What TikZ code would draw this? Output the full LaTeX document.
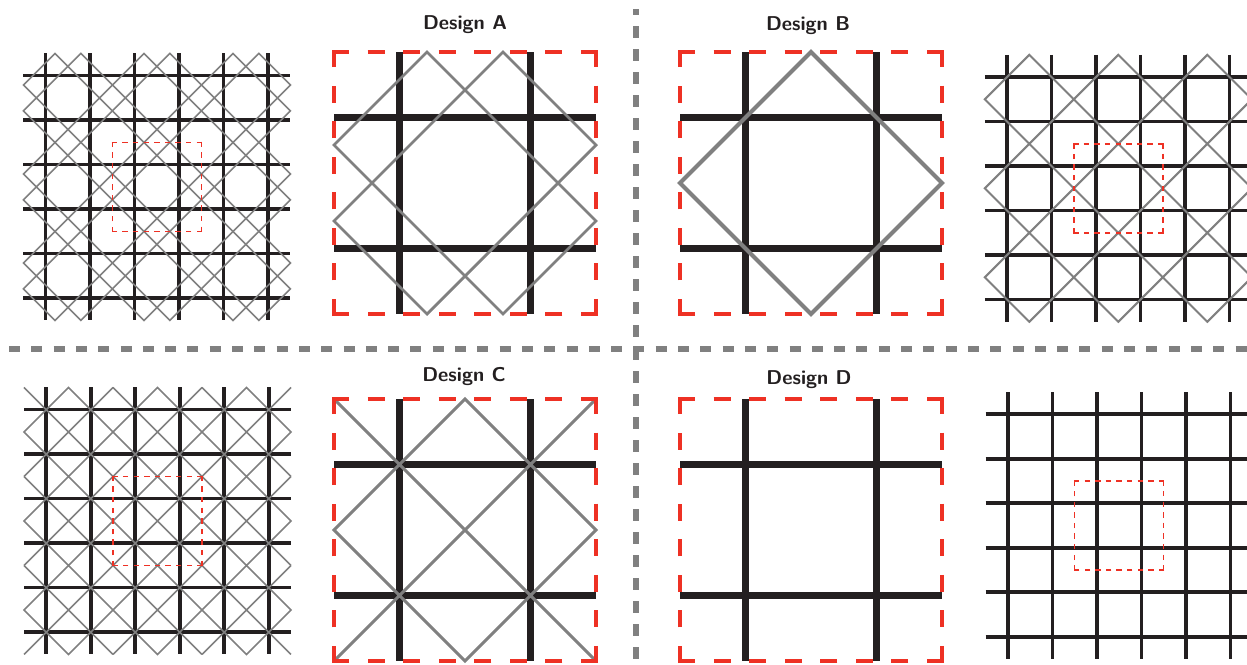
\documentclass[tikz,border=0pt]{standalone}
\definecolor{inkblack}{HTML}{231F20}
\definecolor{linegrey}{HTML}{808080}
\definecolor{boxred}{HTML}{EE3124}
\tikzset{
  blk/.style={draw=inkblack, line cap=butt},
  gry/.style={draw=linegrey, line join=miter},
  redbig/.style={draw=boxred, line width=4pt, dash pattern=on 17pt off 18.57pt},
  redsmall/.style={draw=boxred, line width=1.4pt, dash pattern=on 5.5pt off 5.11pt},
  sepline/.style={draw=linegrey, line width=6pt},
  title/.style={font=\sffamily\bfseries\fontsize{20}{24}\selectfont, text=inkblack, inner sep=0pt, anchor=base}
}
\newcommand\redsq[5]{%
  \draw[#5] ({#1-#4},#2)--({#1+#3+#4},#2)
            ({#1+#3},{#2-#4})--({#1+#3},{#2+#3+#4})
            ({#1+#3+#4},{#2+#3})--({#1-#4},{#2+#3})
            (#1,{#2+#3+#4})--(#1,{#2-#4});}
\newcommand\bigblack{%
  \draw[blk, line width=7pt] (0.25,0)--(0.25,1) (0.75,0)--(0.75,1) (0,0.25)--(1,0.25) (0,0.75)--(1,0.75);}
\newcommand\tileblack{%
  \foreach \k in {0,...,5}{
    \draw[blk, line width=3.6pt] ({0.25+0.5*\k},0)--({0.25+0.5*\k},3) (0,{0.25+0.5*\k})--(3,{0.25+0.5*\k});}}
\newcommand\greyA{(0.355,0)--(1,0.645)--(0.645,1)--(0,0.355)--cycle (0.645,0)--(1,0.355)--(0.355,1)--(0,0.645)--cycle}
\newcommand\greyB{(0.5,0)--(1,0.5)--(0.5,1)--(0,0.5)--cycle}
\newcommand\greyC{(0.5,0)--(1,0.5)--(0.5,1)--(0,0.5)--cycle (0,0)--(1,1) (1,0)--(0,1)}
\begin{document}
\begin{tikzpicture}[x=1pt,y=-1pt]
\useasboundingbox (0,0) rectangle (1247,664);
% separators
\draw[sepline, dash pattern=on 12pt off 11pt, dash phase=6pt] (636,9) -- (636,664);
\draw[sepline, dash pattern=on 11pt off 11.3pt, dash phase=13.3pt] (0,349) -- (1247,349);

% ---- Design A ----
\begin{scope}[shift={(23.4,53.4)},x=89pt,y=-89pt]
  \tileblack
  \foreach \i in {0,1,2}{\foreach \j in {0,1,2}{
    \draw[gry, line width=1.6pt, shift={(\i,\j)}] \greyA;}}
\end{scope}
\redsq{112.4}{142.4}{89}{0.7}{redsmall}
\begin{scope}[shift={(334,52)},x=262pt,y=-262pt]
  \bigblack
  \draw[gry, line width=2.8pt] \greyA;
\end{scope}
\redsq{334}{52}{262}{2}{redbig}
\node[title] (tA) at (465,29) {Design A};

% ---- Design B ----
\begin{scope}[shift={(680,52)},x=262pt,y=-262pt]
  \bigblack
  \draw[gry, line width=4pt] \greyB;
\end{scope}
\redsq{680}{52}{262}{2}{redbig}
\node[title] (tB) at (808,30) {Design B};
\begin{scope}[shift={(984.8,54.8)},x=89pt,y=-89pt]
  \tileblack
  \foreach \i in {0,1,2}{\foreach \j in {0,1,2}{
    \draw[gry, line width=2pt, shift={(\i,\j)}] \greyB;}}
\end{scope}
\redsq{1073.8}{143.8}{89}{0.7}{redsmall}

% ---- Design C ----
\begin{scope}[shift={(24,387.4)},x=89pt,y=-89pt]
  \tileblack
  \foreach \i in {0,1,2}{\foreach \j in {0,1,2}{
    \draw[gry, line width=1.6pt, shift={(\i,\j)}] \greyC;}}
\end{scope}
\redsq{113}{476.4}{89}{0.7}{redsmall}
\begin{scope}[shift={(334,399)},x=262pt,y=-262pt]
  \bigblack
  \draw[gry, line width=3pt] \greyC;
\end{scope}
\redsq{334}{399}{262}{2}{redbig}
\node[title] (tC) at (464,381) {Design C};

% ---- Design D ----
\begin{scope}[shift={(680,399)},x=262pt,y=-262pt]
  \bigblack
\end{scope}
\redsq{680}{399}{262}{2}{redbig}
\node[title] (tD) at (809,384) {Design D};
\begin{scope}[shift={(985.6,392)},x=89pt,y=-89pt]
  \tileblack
\end{scope}
\redsq{1074.6}{481}{89}{0.7}{redsmall}
\end{tikzpicture}
\end{document}
